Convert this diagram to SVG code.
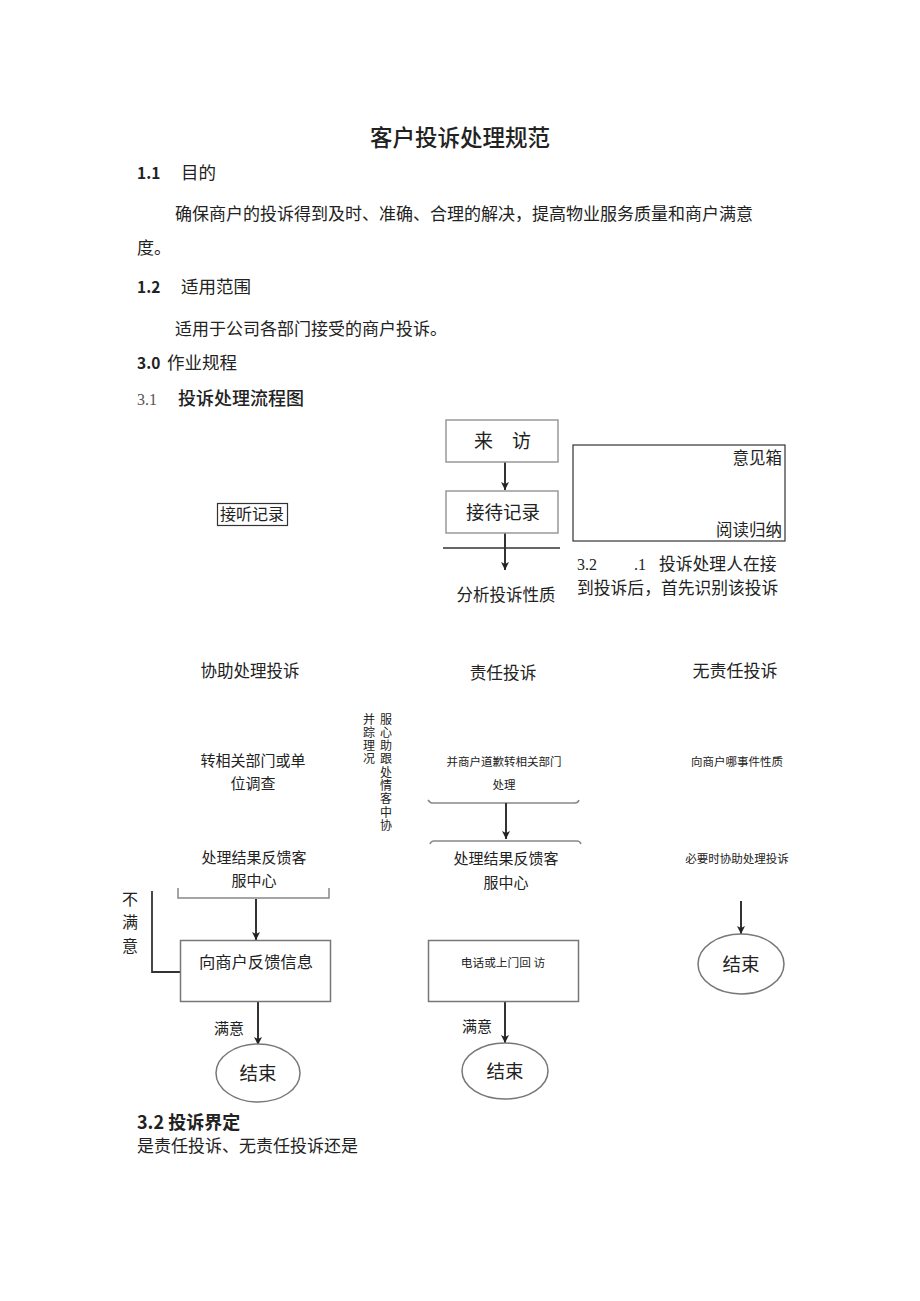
<svg xmlns="http://www.w3.org/2000/svg" width="920" height="1301" viewBox="0 0 920 1301">
<style>
text{font-family:"Noto Sans CJK SC","Liberation Sans",sans-serif;fill:#222}
.b{font-weight:bold}
.s17{font-size:17px}
.c{text-anchor:middle}
.r{text-anchor:end}
.box{fill:#fff;stroke:#999;stroke-width:1.5}
.kbox{fill:#fff;stroke:#333;stroke-width:1.2}
.ln{fill:none;stroke:#333;stroke-width:2}
.gl{fill:none;stroke:#888;stroke-width:1.5}
.vt{font-size:12px;writing-mode:vertical-rl;letter-spacing:1.3px}
</style>
<defs>
<marker id="a2" markerWidth="8" markerHeight="10" refX="8" refY="4" orient="auto" markerUnits="userSpaceOnUse" viewBox="0 0 8 8">
<path d="M0,0 L8,4 L0,8 L2,4 Z" fill="#222"/>
</marker>
</defs>
<rect width="920" height="1301" fill="#fff"/>

<g id="document-text">
<text x="460" y="146" class="c" style="font-size:22.5px;font-weight:500">客户投诉处理规范</text>
<text x="137" y="179" class="b" style="font-size:15.5px">1.1</text>
<text x="181" y="179" style="font-size:17.5px">目的</text>
<text x="175" y="220" class="s17">确保商户的投诉得到及时、准确、合理的解决，提高物业服务质量和商户满意</text>
<text x="137" y="254" class="s17">度。</text>
<text x="137" y="293" class="b" style="font-size:15.5px">1.2</text>
<text x="181" y="293" style="font-size:17.5px">适用范围</text>
<text x="175" y="335" class="s17">适用于公司各部门接受的商户投诉。</text>
<text x="137" y="369" class="b" style="font-size:15.5px">3.0</text>
<text x="167" y="369" style="font-size:17.5px">作业规程</text>
<text x="137" y="405" style="font-size:16px;font-family:'Liberation Serif',serif;fill:#555">3.1</text>
<text x="178" y="405" style="font-size:18px;font-weight:500">投诉处理流程图</text>
<text x="137" y="1129" class="b" style="font-size:18px">3.2 投诉界定</text>
<text x="137" y="1152" class="s17">是责任投诉、无责任投诉还是</text>
</g>

<g id="connectors">
<line x1="505" y1="462" x2="505" y2="490" class="ln" marker-end="url(#a2)"/>
<line x1="443" y1="548" x2="560" y2="548" class="ln" style="stroke-width:1.5"/>
<line x1="505" y1="533" x2="505" y2="570" class="ln" marker-end="url(#a2)"/>
<path d="M428,800 Q430,803 433,803 L575,803 Q578,803 579,800" class="gl"/>
<line x1="506" y1="803" x2="506" y2="839" class="ln" marker-end="url(#a2)"/>
<path d="M430,844 Q431,841 434,841 L577,841 Q580,841 581,844" class="gl"/>
<path d="M178,888 L178,898 L329,898 L329,888" class="gl"/>
<line x1="256" y1="899" x2="256" y2="940" class="ln" marker-end="url(#a2)"/>
<path d="M152,891 L152,972 L181,972" class="ln" style="stroke-width:1.8"/>
<line x1="258" y1="1002" x2="258" y2="1045" class="ln" marker-end="url(#a2)"/>
<line x1="505" y1="1002" x2="505" y2="1043" class="ln" marker-end="url(#a2)"/>
<line x1="741" y1="901" x2="741" y2="934" class="ln" marker-end="url(#a2)"/>
</g>

<g id="node-laifang">
<rect x="446" y="420" width="112" height="42" class="box"/>
<text x="474" y="448" style="font-size:19px">来</text>
<text x="512" y="448" style="font-size:19px">访</text>
</g>
<g id="node-jiedai">
<rect x="446" y="491" width="112" height="42" class="box"/>
<text x="503" y="519" class="c" style="font-size:18.5px">接待记录</text>
</g>
<g id="node-fenxi">
<text x="506" y="601" class="c" style="font-size:16.5px">分析投诉性质</text>
</g>
<g id="node-yijianxiang">
<rect x="573" y="445" width="212" height="96" class="kbox"/>
<text x="782" y="464" class="r" style="font-size:16.5px">意见箱</text>
<text x="782" y="536" class="r" style="font-size:16.5px">阅读归纳</text>
</g>
<g id="note-32">
<text x="577" y="570" style="font-size:16px;font-family:'Liberation Serif',serif">3.2</text>
<text x="634" y="570" style="font-size:16px;font-family:'Liberation Serif',serif">.1</text>
<text x="659" y="570" style="font-size:16.8px">投诉处理人在接</text>
<text x="577" y="594" style="font-size:16.8px">到投诉后，首先识别该投诉</text>
</g>
<g id="node-jieting">
<rect x="217.5" y="503.5" width="70" height="22" class="kbox"/>
<text x="220" y="520" style="font-size:16px">接听记录</text>
</g>

<g id="col-left">
<text x="250" y="677" class="c" style="font-size:16.5px">协助处理投诉</text>
<text x="253" y="766" class="c" style="font-size:15px">转相关部门或单</text>
<text x="253" y="789" class="c" style="font-size:15px">位调查</text>
<text x="254" y="863" class="c" style="font-size:15px">处理结果反馈客</text>
<text x="254" y="886" class="c" style="font-size:15px">服中心</text>
</g>
<g id="vertical-note">
<text x="386" y="713" class="vt">服心助跟处情客中协</text>
<text x="369" y="713" class="vt">并踪理况</text>
</g>
<g id="node-bumanyi">
<text x="130" y="905" class="c" style="font-size:16px">不</text>
<text x="130" y="928" class="c" style="font-size:16px">满</text>
<text x="130" y="952" class="c" style="font-size:16px">意</text>
</g>
<g id="node-fankui">
<rect x="180.5" y="940.5" width="150" height="61" class="box" style="stroke:#777"/>
<text x="256" y="968" class="c" style="font-size:16.3px">向商户反馈信息</text>
</g>
<g id="node-end-left">
<text x="229" y="1034" class="c" style="font-size:15px">满意</text>
<ellipse cx="258" cy="1073" rx="42" ry="29" class="box" style="stroke:#777"/>
<text x="258" y="1080" class="c" style="font-size:18.5px">结束</text>
</g>

<g id="col-mid">
<text x="503" y="679" class="c" style="font-size:16.7px">责任投诉</text>
<text x="504" y="766" class="c" style="font-size:11.5px">并商户道歉转相关部门</text>
<text x="504" y="789" class="c" style="font-size:11.5px">处理</text>
<text x="506" y="864" class="c" style="font-size:15px">处理结果反馈客</text>
<text x="506" y="888" class="c" style="font-size:15px">服中心</text>
</g>
<g id="node-huifang">
<rect x="428.5" y="940.5" width="150" height="61" class="box" style="stroke:#777"/>
<text x="503" y="967" class="c" style="font-size:11.7px">电话或上门回 访</text>
</g>
<g id="node-end-mid">
<text x="477" y="1032" class="c" style="font-size:15px">满意</text>
<ellipse cx="505" cy="1071" rx="43" ry="28" class="box" style="stroke:#777"/>
<text x="505" y="1078" class="c" style="font-size:18.5px">结束</text>
</g>

<g id="col-right">
<text x="735" y="677" class="c" style="font-size:17px">无责任投诉</text>
<text x="737" y="766" class="c" style="font-size:11.5px">向商户哪事件性质</text>
<text x="737" y="863" class="c" style="font-size:11.5px">必要时协助处理投诉</text>
</g>
<g id="node-end-right">
<ellipse cx="741" cy="964" rx="43" ry="30" class="box" style="stroke:#777"/>
<text x="741" y="971" class="c" style="font-size:18.5px">结束</text>
</g>
</svg>
